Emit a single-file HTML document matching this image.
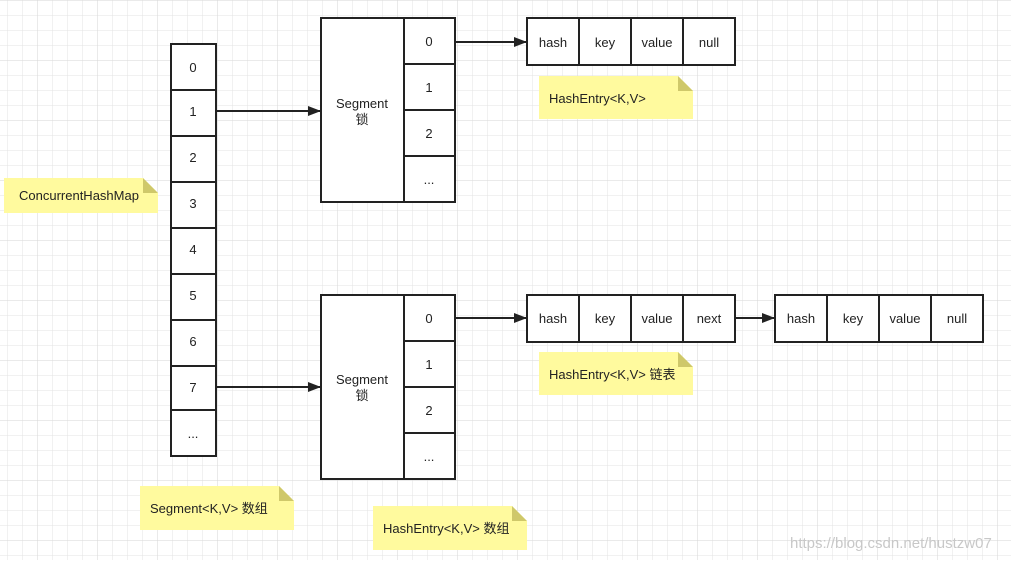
<!DOCTYPE html>
<html><head><meta charset="utf-8"><style>
body{margin:0;background:#fff;}
svg text{font-family:"Liberation Sans","Noto Sans CJK SC",sans-serif;font-size:13px;fill:#222;}
</style></head><body>
<svg width="1011" height="560" xmlns="http://www.w3.org/2000/svg">
<defs>
<pattern id="g" width="15" height="15" patternUnits="userSpaceOnUse" x="7" y="0">
<path d="M0 0H15M0 0V15" stroke="#e3e3e3" stroke-width="1" fill="none"/>
</pattern>
<pattern id="G" width="60" height="60" patternUnits="userSpaceOnUse" x="37" y="0">
<path d="M0 0H60M0 0V60" stroke="#d6d6d6" stroke-width="1" fill="none"/>
</pattern>
<marker id="a" markerWidth="13" markerHeight="10" refX="12" refY="5" orient="auto" markerUnits="userSpaceOnUse">
<path d="M0 0L13 5L0 10z" fill="#222"/></marker>
</defs>
<rect width="1011" height="560" fill="url(#g)"/>
<rect width="1011" height="560" fill="url(#G)"/>
<g stroke="#222" stroke-width="2" fill="#fff">
<rect x="171" y="44" width="45" height="412"/>
<path d="M171 90H216M171 136H216M171 182H216M171 228H216M171 274H216M171 320H216M171 366H216M171 410H216" fill="none"/>
<rect x="321" y="18" width="134" height="184"/>
<path d="M404 18V202M404 64H455M404 110H455M404 156H455" fill="none"/>
<rect x="321" y="295" width="134" height="184"/>
<path d="M404 295V479M404 341H455M404 387H455M404 433H455" fill="none"/>
<rect x="527" y="18" width="208" height="47"/>
<path d="M579 18V65M631 18V65M683 18V65" fill="none"/>
<rect x="527" y="295" width="208" height="47"/>
<path d="M579 295V342M631 295V342M683 295V342" fill="none"/>
<rect x="775" y="295" width="208" height="47"/>
<path d="M827 295V342M879 295V342M931 295V342" fill="none"/>
<g fill="none" marker-end="url(#a)">
<path d="M216 111H320"/><path d="M216 387H320"/><path d="M455 42H526"/><path d="M455 318H526"/><path d="M735 318H774"/>
</g>
</g>
<g text-anchor="middle">
<text x="193" y="72">0</text><text x="193" y="116">1</text><text x="193" y="162">2</text><text x="193" y="208">3</text><text x="193" y="254">4</text><text x="193" y="300">5</text><text x="193" y="346">6</text><text x="193" y="392">7</text><text x="193" y="438">...</text>
<text x="362" y="108">Segment</text><text x="362" y="124">锁</text>
<text x="362" y="384">Segment</text><text x="362" y="400">锁</text>
<text x="429" y="46">0</text><text x="429" y="92">1</text><text x="429" y="138">2</text><text x="429" y="184">...</text>
<text x="429" y="323">0</text><text x="429" y="369">1</text><text x="429" y="415">2</text><text x="429" y="461">...</text>
<text x="553" y="47">hash</text><text x="605" y="47">key</text><text x="657" y="47">value</text><text x="709" y="47">null</text>
<text x="553" y="323">hash</text><text x="605" y="323">key</text><text x="657" y="323">value</text><text x="709" y="323">next</text>
<text x="801" y="323">hash</text><text x="853" y="323">key</text><text x="905" y="323">value</text><text x="957" y="323">null</text>
</g>
<g>
<path d="M4 178H143L158 193V213H4z" fill="#fffa9e"/><path d="M143 178L158 193H143z" fill="#cfc86a"/>
<text x="19" y="200">ConcurrentHashMap</text>
<path d="M539 76H678L693 91V119H539z" fill="#fffa9e"/><path d="M678 76L693 91H678z" fill="#cfc86a"/>
<text x="549" y="103">HashEntry&lt;K,V&gt;</text>
<path d="M539 352H678L693 367V395H539z" fill="#fffa9e"/><path d="M678 352L693 367H678z" fill="#cfc86a"/>
<text x="549" y="379">HashEntry&lt;K,V&gt; 链表</text>
<path d="M140 486H279L294 501V530H140z" fill="#fffa9e"/><path d="M279 486L294 501H279z" fill="#cfc86a"/>
<text x="150" y="513">Segment&lt;K,V&gt; 数组</text>
<path d="M373 506H512L527 521V550H373z" fill="#fffa9e"/><path d="M512 506L527 521H512z" fill="#cfc86a"/>
<text x="383" y="533">HashEntry&lt;K,V&gt; 数组</text>
</g>
<text x="790" y="548" style="fill:#c8c8c8;font-size:15px">https://blog.csdn.net/hustzw07</text>
</svg>
</body></html>
